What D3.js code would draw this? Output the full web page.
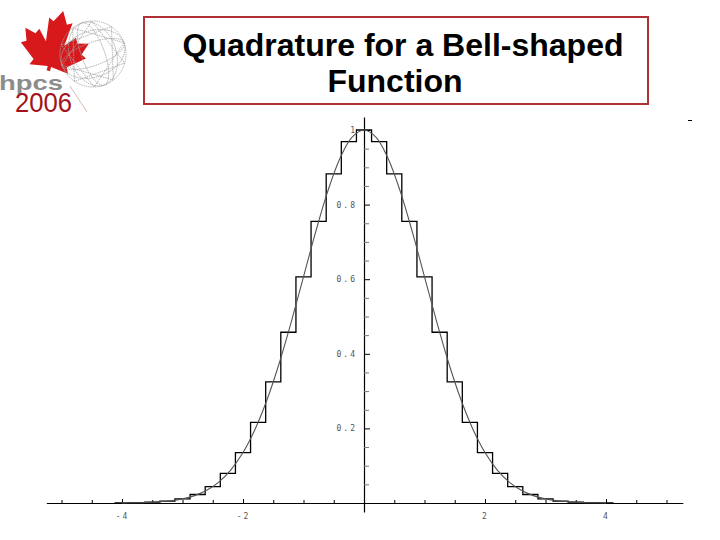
<!DOCTYPE html>
<html>
<head>
<meta charset="utf-8">
<script src="https://cdn.jsdelivr.net/npm/d3@7/dist/d3.min.js"></script>
<style>
  html, body { margin: 0; padding: 0; background: #fff; }
  svg { display: block; }
</style>
</head>
<body>
<svg id="chart" width="720" height="540"></svg>
<script>
// ---------------- DATA ----------------
const titleLines = ["Quadrature for a Bell-shaped", "Function"];

// Bell curve samples (x, y)
const curveX = [-4.0,-3.8,-3.6,-3.4,-3.2,-3.0,-2.8,-2.6,-2.4,-2.2,-2.0,-1.8,-1.6,-1.4,-1.2,-1.0,-0.8,-0.6,-0.4,-0.2,
                 0.0, 0.2, 0.4, 0.6, 0.8, 1.0, 1.2, 1.4, 1.6, 1.8, 2.0, 2.2, 2.4, 2.6, 2.8, 3.0, 3.2, 3.4, 3.6, 3.8, 4.0];
const curveY = [0.0003,0.0007,0.0015,0.0031,0.0060,0.0111,0.0198,0.0340,0.0561,0.0889,0.1353,0.1979,0.2780,0.3753,0.4868,0.6065,0.7261,0.8353,0.9231,0.9802,
                1.0000,
                0.9802,0.9231,0.8353,0.7261,0.6065,0.4868,0.3753,0.2780,0.1979,0.1353,0.0889,0.0561,0.0340,0.0198,0.0111,0.0060,0.0031,0.0015,0.0007,0.0003];

// Quadrature step function: step centres and heights
const stepWidth = 0.25;
const stepCenters = [-4.0,-3.75,-3.5,-3.25,-3.0,-2.75,-2.5,-2.25,-2.0,-1.75,-1.5,-1.25,-1.0,-0.75,-0.5,-0.25,
                      0.0, 0.25, 0.5, 0.75, 1.0, 1.25, 1.5, 1.75, 2.0, 2.25, 2.5, 2.75, 3.0, 3.25, 3.5, 3.75, 4.0];
const stepHeights = [0.0003,0.0009,0.0022,0.0051,0.0111,0.0228,0.0439,0.0796,0.1353,0.2163,0.3247,0.4578,0.6065,0.7548,0.8825,0.9690,
                     1.0000,
                     0.9690,0.8825,0.7548,0.6065,0.4578,0.3247,0.2163,0.1353,0.0796,0.0439,0.0228,0.0111,0.0051,0.0022,0.0009,0.0003];

// Axes
const xTickValues = [-4, -2, 2, 4];
const xTickLabels = ["-4", "-2", "2", "4"];
const xMinorTicks = [-5,-4.5,-3.5,-3,-2.5,-1.5,-1,-0.5,0.5,1,1.5,2.5,3,3.5,4.5,5];
const xAxisExtent = [-5.25, 5.27];
const yTickValues = [0.2, 0.4, 0.6, 0.8, 1];
const yTickLabels = ["0.2", "0.4", "0.6", "0.8", "1"];
const yMinorTicks = [0.05,0.1,0.15,0.25,0.3,0.35,0.45,0.5,0.55,0.65,0.7,0.75,0.85,0.9,0.95];
const yAxisExtent = [-0.024, 1.035];

// ---------------- DRAWING ----------------
const svg = d3.select("#chart");

// Logo
const logo = svg.append("g").attr("class", "logo");
const leafPts = [[0,-48],[-8,-34],[-14,-37],[-11,-10],[-22,-22],[-25,-16],[-38,-19],[-33,-5],[-39,-2],[-20,13],[-23,20],[-2,17],[-2,22],
                 [2,22],[2,17],[23,20],[20,13],[39,-2],[33,-5],[38,-19],[25,-16],[22,-22],[11,-10],[14,-37],[8,-34]];
logo.append("path")
  .attr("d", d3.line()(leafPts) + "Z")
  .attr("transform", "translate(53,52) rotate(14) scale(0.86,0.88)")
  .attr("fill", "#d7191c");
logo.append("line").attr("x1", 70).attr("y1", 86).attr("x2", 87).attr("y2", 112)
  .attr("stroke", "#c9a99a").attr("stroke-width", 0.8);

// Globe wireframe
const gcx = 93, gcy = 54, gr = 33;
const globe = logo.append("g").attr("fill", "none").attr("stroke", "#a4a4a4").attr("stroke-width", 0.8)
  .attr("stroke-dasharray", "1.5,0.8");
globe.append("circle").attr("cx", gcx).attr("cy", gcy).attr("r", gr);
[0.35, 0.7].forEach(k => {
  globe.append("ellipse").attr("cx", gcx).attr("cy", gcy).attr("rx", gr * k).attr("ry", gr)
    .attr("transform", `rotate(-20,${gcx},${gcy})`);
  globe.append("ellipse").attr("cx", gcx).attr("cy", gcy).attr("rx", gr).attr("ry", gr * k)
    .attr("transform", `rotate(-20,${gcx},${gcy})`);
});
for (let i = 0; i < 10; i++) {
  const a1 = (i * 36 - 20) * Math.PI / 180, a2 = (i * 36 + 88) * Math.PI / 180;
  globe.append("line")
    .attr("x1", gcx + gr * Math.cos(a1)).attr("y1", gcy + gr * Math.sin(a1))
    .attr("x2", gcx + gr * Math.cos(a2)).attr("y2", gcy + gr * Math.sin(a2));
}
logo.append("text").text("hpcs")
  .attr("x", -1).attr("y", 90)
  .attr("font-family", "Liberation Sans, Arial, sans-serif").attr("font-weight", "bold")
  .attr("font-size", 21).attr("fill", "#8c8c8c")
  .attr("textLength", 64).attr("lengthAdjust", "spacingAndGlyphs");
logo.append("text").text("2006")
  .attr("x", 15).attr("y", 112)
  .attr("font-family", "Liberation Sans, Arial, sans-serif")
  .attr("font-size", 28).attr("fill", "#a3121c")
  .attr("textLength", 57).attr("lengthAdjust", "spacingAndGlyphs");

// Title box
svg.append("rect")
  .attr("x", 144).attr("y", 17).attr("width", 504).attr("height", 87)
  .attr("fill", "#fff").attr("stroke", "#b03038").attr("stroke-width", 2);
const titleX = [403, 395], titleY = [56, 92];
svg.selectAll("text.title").data(titleLines).join("text")
  .attr("class", "title")
  .attr("x", (d, i) => titleX[i]).attr("y", (d, i) => titleY[i])
  .attr("text-anchor", "middle")
  .attr("font-family", "Liberation Sans, Arial, sans-serif")
  .attr("font-weight", "bold").attr("font-size", 32).attr("fill", "#000")
  .text(d => d);

// small mark top right
svg.append("line").attr("x1", 688).attr("y1", 120.5).attr("x2", 692).attr("y2", 120.5)
  .attr("stroke", "#000").attr("stroke-width", 1);

// Scales
const x = d3.scaleLinear().domain([-4, 4]).range([122, 606]);
const y = d3.scaleLinear().domain([0, 1]).range([503, 130]);

const plot = svg.append("g");

// X axis
const xs = x.copy().domain(xAxisExtent).range(xAxisExtent.map(x));
const xMajor = plot.append("g").attr("transform", `translate(0,${y(0)})`)
  .call(d3.axisTop(xs).tickValues(xTickValues).tickSize(4).tickSizeOuter(0).tickFormat(""));
const xMinor = plot.append("g").attr("transform", `translate(0,${y(0)})`)
  .call(d3.axisTop(xs).tickValues(xMinorTicks).tickSize(3).tickSizeOuter(0).tickFormat(""));
xMinor.select(".domain").remove();
const xLab = plot.append("g").attr("transform", `translate(0,${y(0)})`)
  .call(d3.axisBottom(xs).tickValues(xTickValues).tickSize(0).tickPadding(10)
        .tickFormat((d, i) => xTickLabels[i]));
xLab.select(".domain").remove();

// Y axis
const ys = y.copy().domain(yAxisExtent).range(yAxisExtent.map(y));
const yMajor = plot.append("g").attr("transform", `translate(${x(0)},0)`)
  .call(d3.axisRight(ys).tickValues(yTickValues).tickSize(6).tickSizeOuter(0).tickFormat(""));
const yMinor = plot.append("g").attr("transform", `translate(${x(0)},0)`)
  .call(d3.axisRight(ys).tickValues(yMinorTicks).tickSize(5).tickSizeOuter(0).tickFormat(""));
yMinor.select(".domain").remove();
yMinor.selectAll(".tick line").attr("stroke", "#777");
const yLab = plot.append("g").attr("transform", `translate(${x(0)},0)`)
  .call(d3.axisLeft(ys).tickValues(yTickValues).tickSize(0).tickPadding(7)
        .tickFormat((d, i) => yTickLabels[i]));
yLab.select(".domain").remove();

plot.selectAll(".domain").attr("stroke", "#000").attr("stroke-width", 1.2);
plot.selectAll(".tick text")
  .attr("font-family", "DejaVu Sans Mono, monospace").attr("font-size", 8)
  .attr("fill", "#555").attr("letter-spacing", 2);

// Step function
const stepPts = stepCenters.map((c, i) => [c - stepWidth / 2, stepHeights[i]]);
stepPts.push([stepCenters[stepCenters.length - 1] + stepWidth / 2, stepHeights[stepHeights.length - 1]]);
plot.append("path")
  .attr("d", d3.line().x(d => x(d[0])).y(d => y(d[1])).curve(d3.curveStepAfter)(stepPts))
  .attr("fill", "none").attr("stroke", "#000").attr("stroke-width", 1.3);

// Bell curve
plot.append("path")
  .attr("d", d3.line().x((d, i) => x(curveX[i])).y(d => y(d)).curve(d3.curveCatmullRom)(curveY))
  .attr("fill", "none").attr("stroke", "#555").attr("stroke-width", 1.1);
</script>
</body>
</html>
